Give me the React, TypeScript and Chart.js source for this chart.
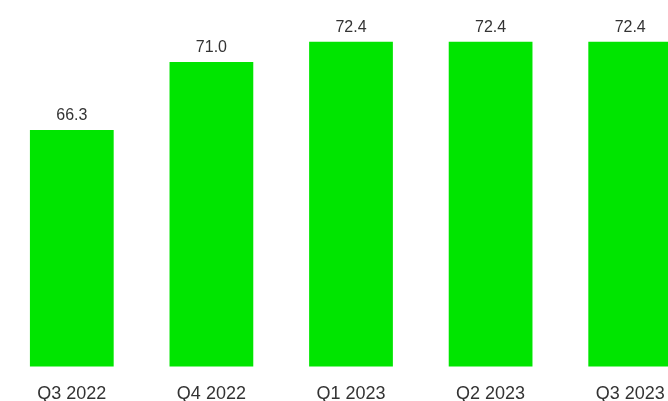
import React, { useEffect, useRef } from "react";
import { Chart, registerables } from "chart.js";

Chart.register(...registerables);

const categories = ["Q3 2022", "Q4 2022", "Q1 2023", "Q2 2023", "Q3 2023"];
const values = [66.3, 71.0, 72.4, 72.4, 72.4];
const yMin = 50;
const yMax = 75;

const FONT = "'Liberation Sans', Arial, Helvetica, sans-serif";
const TEXT = "#333333";
const GREEN = "rgb(0,229,0)";

const valueLabels = {
  id: "valueLabels",
  afterDatasetsDraw(chart: any) {
    const ctx = chart.ctx;
    const meta = chart.getDatasetMeta(0);
    ctx.save();
    ctx.font = `16px ${FONT}`;
    ctx.fillStyle = TEXT;
    ctx.textAlign = "center";
    ctx.textBaseline = "alphabetic";
    meta.data.forEach((bar: any, i: number) => {
      ctx.fillText(values[i].toFixed(1), bar.x, bar.y - 10);
    });
    ctx.restore();
  },
};

export default function App() {
  const ref = useRef<HTMLCanvasElement | null>(null);
  useEffect(() => {
    if (!ref.current) return;
    const chart = new Chart(ref.current, {
      type: "bar",
      data: {
        labels: categories,
        datasets: [
          {
            data: values,
            backgroundColor: GREEN,
            borderWidth: 0,
            barPercentage: 0.6,
            categoryPercentage: 1,
          },
        ],
      },
      options: {
        animation: false,
        responsive: true,
        maintainAspectRatio: false,
        layout: { padding: { top: 4, left: 2, right: 2, bottom: 0 } },
        plugins: {
          legend: { display: false },
          tooltip: { enabled: false },
        },
        scales: {
          x: {
            grid: { display: false, drawTicks: false },
            border: { display: false },
            ticks: {
              font: { family: FONT, size: 18 },
              color: TEXT,
              padding: 17,
              maxRotation: 0,
            },
          },
          y: {
            display: false,
            min: yMin,
            max: yMax,
          },
        },
      },
      plugins: [valueLabels],
    });
    return () => chart.destroy();
  }, []);

  return (
    <div
      style={{
        position: "absolute",
        left: 0,
        top: 0,
        width: 668,
        height: 401,
        overflow: "hidden",
        background: "#fff",
      }}
    >
      <div style={{ position: "relative", width: 702, height: 422 }}>
        <canvas ref={ref} />
      </div>
    </div>
  );
}
